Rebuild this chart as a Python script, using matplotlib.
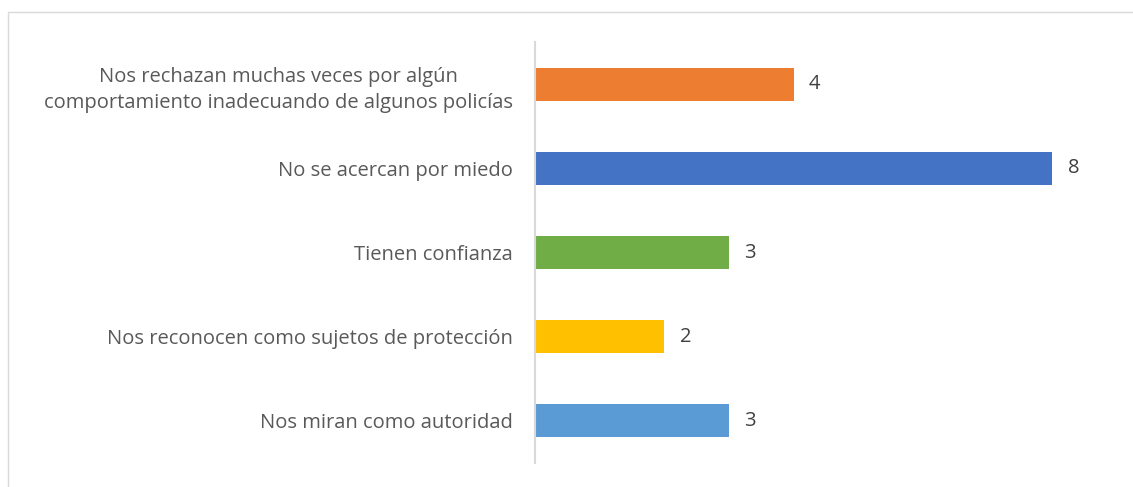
import numpy as np
from matplotlib import pyplot as plt
from matplotlib.patches import Rectangle

# データ (上から順に)
categories = [
    "Nos rechazan muchas veces por algún\ncomportamiento inadecuando de algunos policías",
    "No se acercan por miedo",
    "Tienen confianza",
    "Nos reconocen como sujetos de protección",
    "Nos miran como autoridad",
]
values = [4, 8, 3, 2, 3]
colors = ["#ED7D31", "#4472C4", "#70AD47", "#FFC000", "#5B9BD5"]

W, H = 1133, 487
plt.rcParams['font.family'] = ['Open Sans', 'DejaVu Sans']

fig = plt.figure(figsize=(W / 100, H / 100), dpi=100)

# 外枠
fig.add_artist(Rectangle((8 / W, -0.05), 1.2, 1 - 12 / H + 0.05,
                         transform=fig.transFigure, fill=False,
                         edgecolor="#D9D9D9", linewidth=1.0))

# 軸の位置 (ピクセル)
ax_left, ax_top, ax_bottom = 535, 42, 463
xmax = 9
unit = (1052 - 535) / 8
ax = fig.add_axes([ax_left / W, 1 - ax_bottom / H,
                   xmax * unit / W, (ax_bottom - ax_top) / H])

y = np.arange(len(categories))
ax.barh(y, values, height=0.39, color=colors)
ax.set_ylim(len(categories) - 0.5, -0.5)
ax.set_xlim(0, xmax)

for yi, v in zip(y, values):
    ax.text(v + 0.24, yi, str(v), va="center", ha="left",
            fontsize=14.5, color="#404040")

ax.set_yticks(y)
ax.set_yticklabels(categories, fontsize=14.5, color="#595959",
                   linespacing=1.45)
for lbl in ax.get_yticklabels():
    lbl.set_multialignment("center")
ax.tick_params(axis="y", length=0, pad=16)
ax.set_xticks([])

for s in ["top", "right", "bottom"]:
    ax.spines[s].set_visible(False)
ax.spines["left"].set_color("#D9D9D9")
ax.spines["left"].set_linewidth(1.5)

fig.savefig("out.png", dpi=100)
